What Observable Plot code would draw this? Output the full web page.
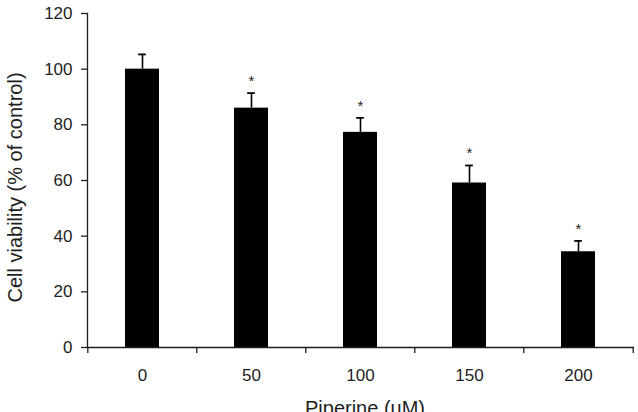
<!DOCTYPE html>
<html><head><meta charset="utf-8">
<script src="https://cdn.jsdelivr.net/npm/d3@7"></script>
<script src="https://cdn.jsdelivr.net/npm/@observablehq/plot@0.6"></script>
<style>html,body{margin:0;padding:0;background:#fff;overflow:hidden}</style>
</head><body><div id="chart"></div>
<script>
const doses = ["0", "50", "100", "150", "200"];
const viability = [100, 86.0, 77.3, 59.1, 34.4];
const sem = [5.3, 5.4, 5.2, 6.3, 3.9];
const significant = [false, true, true, true, true];
const yTicks = [0, 20, 40, 60, 80, 100, 120];
const xTitle = "Piperine (uM)";
const yTitle = "Cell viability (% of control)";

const data = doses.map((d, i) => ({dose: d, v: viability[i], top: viability[i] + sem[i], sig: significant[i]}));

const width = 638, height = 412, mL = 87, mR = 4, mT = 13, mB = 65;
const step = (width - mL - mR) / doses.length;
const padIn = 0.686;
const bw = step * (1 - padIn);
const capW = 8;
const ink = "#1e1e1e";

const chart = Plot.plot({
  width, height, marginLeft: mL, marginRight: mR, marginTop: mT, marginBottom: mB,
  style: {fontFamily: "'Liberation Sans', Arial, sans-serif", fontSize: "17px", color: ink, background: "#fff"},
  x: {domain: doses, paddingInner: padIn, paddingOuter: padIn / 2, label: null},
  y: {domain: [0, 120], label: null},
  marks: [
    Plot.barY(data, {x: "dose", y: "v", fill: "#000"}),
    Plot.ruleX(data, {x: "dose", y1: "v", y2: "top", stroke: "#000", strokeWidth: 1.6}),
    Plot.tickY(data, {x: "dose", y: "top", stroke: "#000", strokeWidth: 1.8, insetLeft: (bw - capW) / 2, insetRight: (bw - capW) / 2}),
    Plot.text(data.filter(d => d.sig), {x: "dose", y: "top", text: () => "*", dy: -12, fontSize: 15, fill: ink}),
    Plot.axisY({ticks: yTicks, tickSize: 6, tickPadding: 9, label: null, stroke: ink, strokeWidth: 1.3}),
    Plot.axisX({tickSize: 0, tickPadding: 21, label: null}),
    Plot.ruleX(doses, {x: d => d, y1: 0, y2: 0, dx: -step / 2, insetBottom: -6, stroke: ink, strokeWidth: 1.3}),
    Plot.ruleX(doses.slice(-1), {x: d => d, y1: 0, y2: 0, dx: step / 2, insetBottom: -6, stroke: ink, strokeWidth: 1.3}),
    Plot.ruleY([0], {stroke: ink, strokeWidth: 1.3}),
    Plot.frame({anchor: "left", stroke: ink, strokeWidth: 1.3}),
    Plot.text([yTitle], {frameAnchor: "left", text: d => d, rotate: -90, textAnchor: "middle", lineAnchor: "middle", dx: -72, dy: 7, fontSize: 20, fill: ink}),
    Plot.text([xTitle], {frameAnchor: "bottom", text: d => d, textAnchor: "middle", lineAnchor: "top", dx: 4, dy: 53, fontSize: 20, fill: ink})
  ]
});
document.getElementById("chart").append(chart);
</script>
</body></html>
